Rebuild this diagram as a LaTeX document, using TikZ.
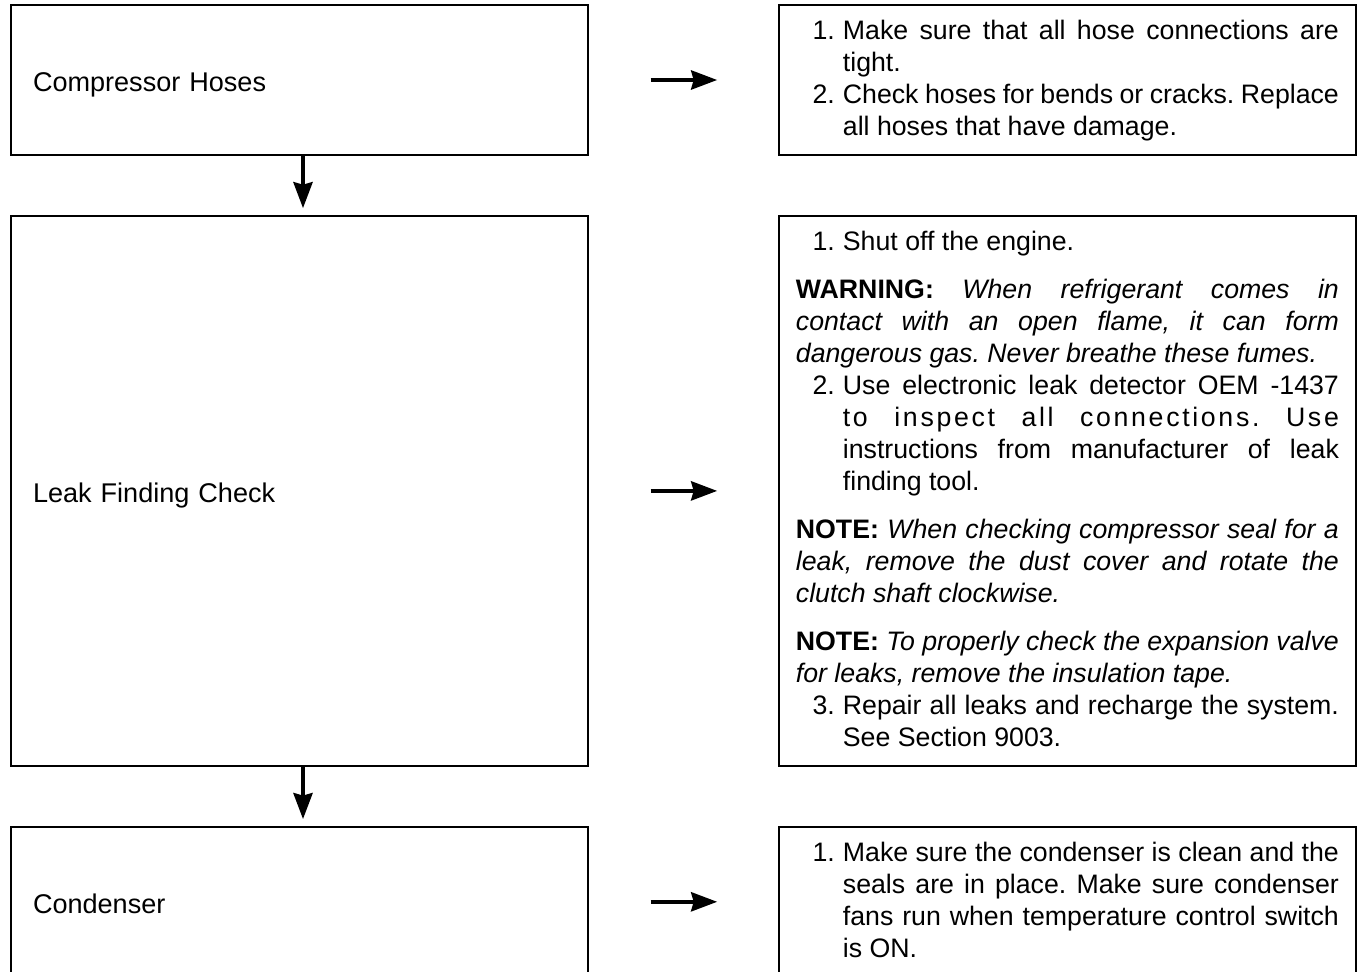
\documentclass[tikz,border=0pt]{standalone}
\usepackage{fontspec}
\setmainfont{Liberation Sans}
\newfontface\spacedfont[LetterSpace=10]{Liberation Sans}
\usetikzlibrary{positioning, arrows.meta}

\newcommand\stepitem[2]{\par\noindent\hangindent=0.94cm\hangafter=1\hbox to 0.94cm{\hfil #1\kern0.16cm}\strut #2\par}
\newcommand\infotext{\fontsize{15.2pt}{18.21pt}\selectfont\frenchspacing\tolerance=10000\hyphenpenalty=10000\exhyphenpenalty=10000}

\tikzset{
  stepbox/.style={draw, line width=0.8pt, minimum height=3cm, text width=10.66cm, inner xsep=0.44cm,
    align=left, text height=0.46cm, text depth=0cm, font=\fontsize{15.4pt}{18.21pt}\selectfont},
  infobox/.style={draw, line width=0.8pt, inner xsep=0.34cm, inner ysep=0pt},
  flowarrow/.style={line width=2.3pt, -{Stealth[length=0.52cm, width=0.38cm, inset=0.05cm]}}
}

\begin{document}
\begin{tikzpicture}

        \useasboundingbox (0,0) rectangle (27.22,-19.44);
        \clip (0,0) rectangle (27.22,-19.44);

        % 1. Left column (checks)
        \node[stepbox] (hoses) at (5.99,-1.6) {Compressor Hoses};
        \node[stepbox, minimum height=11cm, below=1.19cm of hoses] (leak) {Leak Finding Check};
        \node[stepbox, below=1.19cm of leak] (condenser) {Condenser};

        % 2. Right column (what to do)
        \node[infobox, right=3.79cm of hoses] (hosesinfo) {\parbox[c][3cm][t]{10.86cm}{\infotext\vspace*{0.24cm}%
            \stepitem{1.}{Make sure that all hose connections are\linebreak tight.}
            \stepitem{2.}{Check hoses for bends or cracks. Replace\linebreak all hoses that have damage.}}};

        \node[infobox, right=3.79cm of leak] (leakinfo) {\parbox[c][11cm][t]{10.86cm}{\infotext\vspace*{0.24cm}%
            \stepitem{1.}{Shut off the engine.}
            \vspace{0.32cm}
            \noindent\strut\textbf{WARNING:} {\itshape When refrigerant comes in\linebreak contact with an open flame, it can form\linebreak dangerous gas. Never breathe these fumes.\par}
            \stepitem{2.}{Use electronic leak detector OEM \mbox{-1437}\linebreak {\spacedfont to inspect all connections. Use}\linebreak instructions from manufacturer of leak\linebreak finding tool.}
            \vspace{0.32cm}
            \noindent\strut\textbf{NOTE:}\ {\itshape When checking compressor seal for a\linebreak leak, remove the dust cover and rotate the\linebreak clutch shaft clockwise.\par}
            \vspace{0.32cm}
            \noindent\strut\textbf{NOTE:}\ {\itshape To properly check the expansion valve\linebreak for leaks, remove the insulation tape.\par}
            \stepitem{3.}{Repair all leaks and recharge the system.\linebreak See Section 9003.}}};

        \node[infobox, right=3.79cm of condenser] (condinfo) {\parbox[c][3cm][t]{10.86cm}{\infotext\vspace*{0.24cm}%
            \stepitem{1.}{Make sure the condenser is clean and the\linebreak seals are in place. Make sure condenser\linebreak fans run when temperature control switch\linebreak is ON.}}};

        % 3. Arrows between the boxes
        \draw[flowarrow, shorten >=0.14cm] ([xshift=0.07cm]hoses.south) -- ([xshift=0.07cm]leak.north);
        \draw[flowarrow, shorten >=0.14cm] ([xshift=0.07cm]leak.south) -- ([xshift=0.07cm]condenser.north);
        \draw[flowarrow, shorten <=1.24cm, shorten >=1.22cm] (hoses.east) -- (hosesinfo.west);
        \draw[flowarrow, shorten <=1.24cm, shorten >=1.22cm] (leak.east) -- (leakinfo.west);
        \draw[flowarrow, shorten <=1.24cm, shorten >=1.22cm] (condenser.east) -- (condinfo.west);

\end{tikzpicture}
\end{document}
